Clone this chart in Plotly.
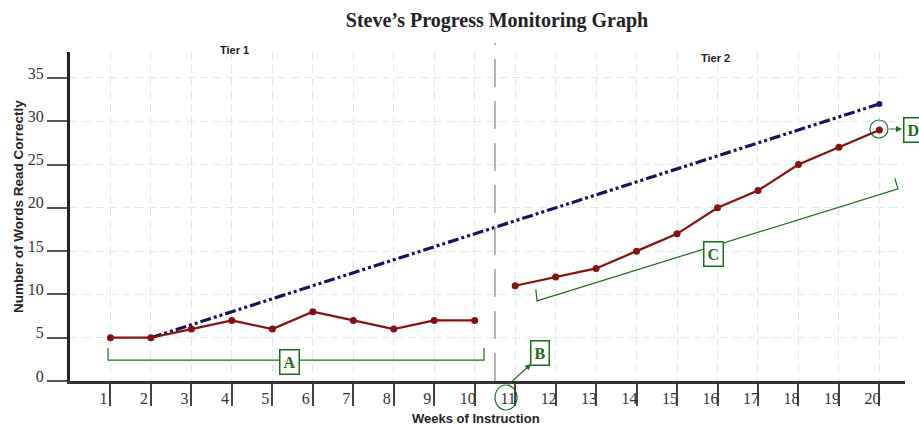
import plotly.graph_objects as go

# ---- data ----
tier1_weeks = [1, 2, 3, 4, 5, 6, 7, 8, 9, 10]
tier1_scores = [5, 5, 6, 7, 6, 8, 7, 6, 7, 7]
tier2_weeks = [11, 12, 13, 14, 15, 16, 17, 18, 19, 20]
tier2_scores = [11, 12, 13, 15, 17, 20, 22, 25, 27, 29]
aim_weeks = [2, 20]
aim_scores = [5, 32]
x_ticks = list(range(1, 21))
y_ticks = [0, 5, 10, 15, 20, 25, 30, 35]

RED = "#8a0f0f"
NAVY = "#1b1060"
GREEN = "#1a6e1a"
GRID = "#d5ecf8"

# pixel helpers for paper coordinates (plot area: x 70..905, y 52..381)
L, R, T, B = 70, 905, 52, 381
def px(x):
    return (x - L) / (R - L)
def py(y):
    return (B - y) / (B - T)

fig = go.Figure()

fig.add_trace(go.Scatter(x=aim_weeks, y=aim_scores, mode="lines+markers",
                         line=dict(color=NAVY, width=3.2, dash="11px,3px,3px,3px,3px,3px"),
                         marker=dict(color=NAVY, size=6), showlegend=False, hoverinfo="skip"))
fig.add_trace(go.Scatter(x=tier1_weeks, y=tier1_scores, mode="lines+markers",
                         line=dict(color=RED, width=2.2), marker=dict(color=RED, size=7),
                         showlegend=False))
fig.add_trace(go.Scatter(x=tier2_weeks, y=tier2_scores, mode="lines+markers",
                         line=dict(color=RED, width=2.2), marker=dict(color=RED, size=7),
                         showlegend=False))

shapes = []
# tier separator
shapes.append(dict(type="line", xref="x", yref="paper", x0=10.5, x1=10.5,
                   y0=0, y1=py(43), line=dict(color="#9a9a9a", width=1.5, dash="28px,14px")))
# bracket A
shapes.append(dict(type="path", xref="x", yref="y",
                   path="M 0.94 3.8 L 0.94 2.4 L 10.23 2.4 L 10.23 3.8",
                   line=dict(color=GREEN, width=1.2)))
# bracket C
shapes.append(dict(type="path", xref="x", yref="y",
                   path="M 11.51 10.6 L 11.54 9.25 L 20.46 22.2 L 20.38 23.4",
                   line=dict(color=GREEN, width=1.2)))
# circle around week 20 point (D)
shapes.append(dict(type="circle", xref="paper", yref="paper",
                   x0=px(870), x1=px(888), y0=py(138), y1=py(120),
                   line=dict(color=GREEN, width=1.2)))
# circle around tick label 11 (B)
shapes.append(dict(type="circle", xref="paper", yref="paper",
                   x0=px(495), x1=px(517), y0=py(410), y1=py(385),
                   line=dict(color=GREEN, width=1.2)))

box = dict(font=dict(family="Liberation Serif", size=16, color=GREEN),
           bgcolor="white", bordercolor=GREEN, borderwidth=1.5, borderpad=3,
           showarrow=False, yanchor="middle")
annotations = [
    dict(text="<b>A</b>", xref="paper", yref="paper", x=px(289), y=py(362), xanchor="center", **box),
    dict(text="<b>B</b>", xref="paper", yref="paper", x=px(540), y=py(353), xanchor="center", **box),
    dict(text="<b>C</b>", xref="paper", yref="paper", x=px(713), y=py(254), xanchor="center", **box),
    dict(text="<b>D</b>", xref="paper", yref="paper", x=px(903), y=py(130), xanchor="left", **box),
    # arrows
    dict(text="", xref="paper", yref="paper", x=px(531), y=py(364),
         ax=-24, ay=22, axref="pixel", ayref="pixel",
         showarrow=True, arrowhead=2, arrowsize=1, arrowwidth=1.2, arrowcolor=GREEN),
    dict(text="", xref="paper", yref="paper", x=px(902), y=py(129),
         ax=-14, ay=0, axref="pixel", ayref="pixel",
         showarrow=True, arrowhead=2, arrowsize=1, arrowwidth=1.2, arrowcolor=GREEN),
    # tier labels
    dict(text="<b>Tier 1</b>", xref="paper", yref="paper", x=px(234), y=py(50),
         xanchor="center", yanchor="middle",
         showarrow=False, font=dict(family="Liberation Sans", size=11, color="#222")),
    dict(text="<b>Tier 2</b>", xref="paper", yref="paper", x=px(715), y=py(58),
         xanchor="center", yanchor="middle",
         showarrow=False, font=dict(family="Liberation Sans", size=11, color="#222")),
    # axis titles
    dict(text="<b>Weeks of Instruction</b>", xref="paper", yref="paper", x=px(476), y=py(418),
         xanchor="center", yanchor="middle",
         showarrow=False, font=dict(family="Liberation Sans", size=13, color="#222")),
    dict(text="<b>Number of Words Read Correctly</b>", xref="paper", yref="paper",
         x=px(18), y=py(207), textangle=-90, xanchor="center", yanchor="middle",
         showarrow=False, font=dict(family="Liberation Sans", size=13.5, color="#222")),
]

fig.update_layout(
    width=919, height=428,
    margin=dict(l=L, r=919 - R, t=T, b=428 - B),
    paper_bgcolor="white", plot_bgcolor="white",
    title=dict(text="<b>Steve’s Progress Monitoring Graph</b>", x=497 / 919, xanchor="center",
               y=1 - 20 / 428, yanchor="middle", yref="container",
               font=dict(family="Liberation Serif", size=20, color="#222")),
    shapes=shapes, annotations=annotations,
    xaxis=dict(range=[0, (R - L) / 40.47], tickvals=x_ticks, ticktext=[str(v) for v in x_ticks],
               ticks="outside", ticklen=22, tickwidth=1.5, tickcolor="#444",
               ticklabelstandoff=-21, ticklabelshift=-7,
               tickfont=dict(family="Liberation Serif", size=16, color="#333"),
               showline=True, linewidth=3, linecolor="#333",
               showgrid=True, gridcolor=GRID, griddash="8px,5px", gridwidth=1,
               zeroline=False),
    yaxis=dict(range=[0, 38], tickvals=y_ticks, ticktext=[str(v) for v in y_ticks],
               ticks="outside", ticklen=20, tickwidth=1.5, tickcolor="#555",
               ticklabelshift=-5,
               tickfont=dict(family="Liberation Serif", size=16, color="#333"),
               showline=True, linewidth=3, linecolor="#222",
               showgrid=True, gridcolor=GRID, griddash="8px,5px", gridwidth=1,
               zeroline=False),
)

fig.write_html("out.html", config={"displayModeBar": False},
               post_script="document.body.style.margin='0px';document.body.style.overflow='hidden';")
